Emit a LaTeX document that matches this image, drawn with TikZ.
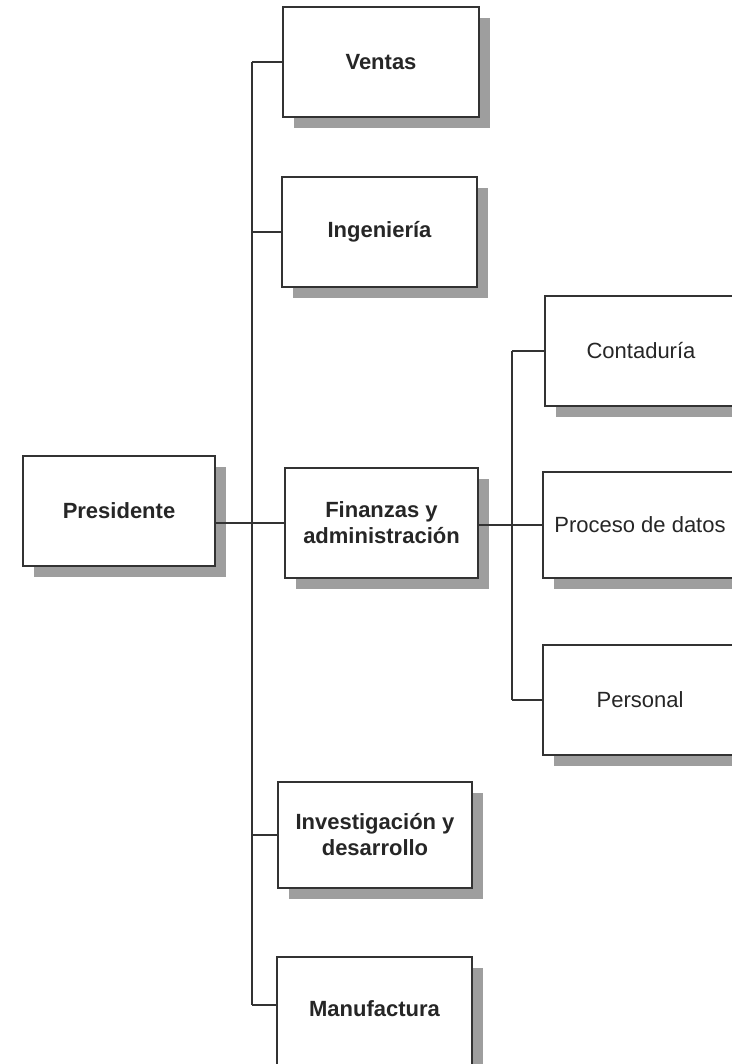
\documentclass[tikz,border=0pt]{standalone}
\usepackage{fontspec}
\setmainfont{Liberation Sans}
\usetikzlibrary{shadows}
\begin{document}
\begin{tikzpicture}[x=1pt,y=-1pt,
  unit/.style={draw=black!80, line width=1.3pt, fill=white, inner sep=0pt,
    align=center, text=black!85,
    font=\fontsize{22}{26}\selectfont,
    drop shadow={shadow xshift=11pt, shadow yshift=-11pt, fill=black!38, opacity=1}},
  headunit/.style={unit, font=\fontsize{22}{26}\selectfont\bfseries},
  conn/.style={draw=black!80, line width=1.4pt}]
\useasboundingbox (0,0) rectangle (731,1064);

% first level
\node[headunit, minimum width=192pt, minimum height=110pt] (pres) at (119,511) {Presidente};
\node[headunit, minimum width=196pt, minimum height=110pt] (ventas) at (381,62) {Ventas};
\node[headunit, minimum width=195pt, minimum height=110pt] (ing) at (379.5,232) {Ingeniería};
\node[headunit, minimum width=193pt, minimum height=110pt] (fin) at (381.5,523) {Finanzas y\\administración};
\node[headunit, minimum width=194pt, minimum height=106pt] (inv) at (375,835) {Investigación y\\desarrollo};
\node[headunit, minimum width=195pt, minimum height=110pt] (manu) at (374.5,1012) {\raisebox{7pt}{Manufactura}};

% second level under Finanzas
\node[unit, minimum width=192pt, minimum height=110pt] (cont) at (641,351) {Contaduría};
\node[unit, minimum width=194pt, minimum height=106pt] (proc) at (640,525) {Proceso de datos};
\node[unit, minimum width=194pt, minimum height=110pt] (pers) at (640,700) {Personal};

% trunks
\coordinate (tr) at (252,0);
\coordinate (tr2) at (512,0);
\coordinate (manustub) at ([yshift=7pt]manu.west);

\draw[conn] (ventas.west -| tr) -- (manustub -| tr);
\foreach \b in {ventas, ing, inv} \draw[conn] (\b.west -| tr) -- (\b.west);
\draw[conn] (manustub -| tr) -- (manustub);
\draw[conn] (pres.east |- fin.west) -- (fin.west);

\draw[conn] (cont.west -| tr2) -- (pers.west -| tr2);
\foreach \b in {cont, pers} \draw[conn] (\b.west -| tr2) -- (\b.west);
\draw[conn] (fin.east |- proc.west) -- (proc.west);
\end{tikzpicture}
\end{document}
